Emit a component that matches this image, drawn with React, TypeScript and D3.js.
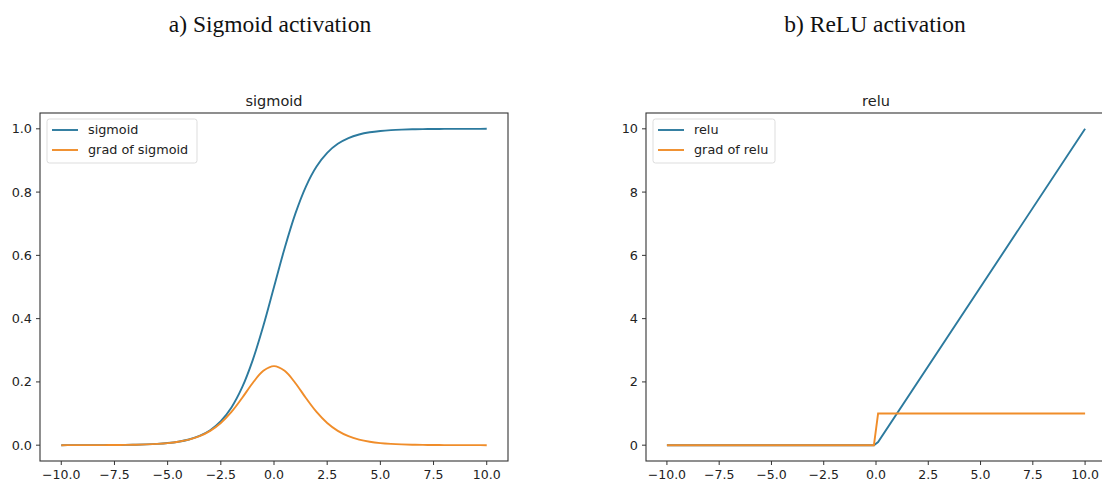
import React from 'react';
import * as d3 from 'd3';

const sigX = [-10, -9.5, -9, -8.5, -8, -7.5, -7, -6.5, -6, -5.5, -5, -4.5, -4, -3.5, -3, -2.5, -2, -1.5, -1, -0.5, 0,
  0.5, 1, 1.5, 2, 2.5, 3, 3.5, 4, 4.5, 5, 5.5, 6, 6.5, 7, 7.5, 8, 8.5, 9, 9.5, 10];
const sigY = [0.0, 0.0001, 0.0001, 0.0002, 0.0003, 0.0006, 0.0009, 0.0015, 0.0025, 0.0041, 0.0067, 0.011, 0.018, 0.0293,
  0.0474, 0.0759, 0.1192, 0.1824, 0.2689, 0.3775, 0.5, 0.6225, 0.7311, 0.8176, 0.8808, 0.9241, 0.9526, 0.9707, 0.982,
  0.989, 0.9933, 0.9959, 0.9975, 0.9985, 0.9991, 0.9994, 0.9997, 0.9998, 0.9999, 0.9999, 1.0];
const sigGrad = [0.0, 0.0001, 0.0001, 0.0002, 0.0003, 0.0006, 0.0009, 0.0015, 0.0025, 0.0041, 0.0066, 0.0109, 0.0177,
  0.0285, 0.0452, 0.0701, 0.105, 0.1491, 0.1966, 0.235, 0.25, 0.235, 0.1966, 0.1491, 0.105, 0.0701, 0.0452, 0.0285,
  0.0177, 0.0109, 0.0066, 0.0041, 0.0025, 0.0015, 0.0009, 0.0006, 0.0003, 0.0002, 0.0001, 0.0001, 0.0];

// relu panel: the kink sits between the two samples nearest zero
const reluX = [-10, -0.1, 0.1, 10];
const reluY = [0, 0, 0.1, 10];
const reluGrad = [0, 0, 1, 1];

const xTicks = [-10, -7.5, -5, -2.5, 0, 2.5, 5, 7.5, 10];
const sigTicks = [0, 0.2, 0.4, 0.6, 0.8, 1.0];
const reluTicks = [0, 2, 4, 6, 8, 10];

const BLUE = '#2c7a9e';
const ORANGE = '#f08d2a';
const FONT = 'DejaVu Sans, sans-serif';

type Series = { name: string; ys: number[]; color: string; curve: d3.CurveFactory };

function fmtTick(v: number) {
  return d3.format('.1f')(v).replace('-', '\u2212');
}

const Panel = ({ left, right, top, bottom, title, xs, series, yDomain, yTicks, yFmt, legendW }: {
  left: number; right: number; top: number; bottom: number; title: string; xs: number[];
  series: Series[]; yDomain: [number, number]; yTicks: number[]; yFmt: (v: number) => string; legendW: number;
}) => {
  const x = d3.scaleLinear().domain([-11, 11]).range([left, right]);
  const y = d3.scaleLinear().domain(yDomain).range([bottom, top]);
  return (
    <g>
      <text x={(left + right) / 2} y={top - 7} textAnchor="middle" fontFamily={FONT} fontSize={14.5} fill="#222">{title}</text>
      {series.map((s) => {
        const line = d3.line<number>().x((_, i) => x(xs[i])).y((d) => y(d)).curve(s.curve);
        return <path key={s.name} d={line(s.ys) || ''} fill="none" stroke={s.color} strokeWidth={1.9} />;
      })}
      <rect x={left} y={top} width={right - left} height={bottom - top} fill="none" stroke="#333" strokeWidth={1.1} />
      {xTicks.map((t) => (
        <g key={t} transform={`translate(${x(t)},${bottom})`}>
          <line y2={4} stroke="#333" />
          <text y={18} textAnchor="middle" fontFamily={FONT} fontSize={12.5} fill="#222">{fmtTick(t)}</text>
        </g>
      ))}
      {yTicks.map((t) => (
        <g key={t} transform={`translate(${left},${y(t)})`}>
          <line x2={-4} stroke="#333" />
          <text x={-8} dy="0.35em" textAnchor="end" fontFamily={FONT} fontSize={12.8} fill="#222">{yFmt(t)}</text>
        </g>
      ))}
      <g transform={`translate(${left + 7},${top + 6})`}>
        <rect width={legendW} height={44} rx={2.5} fill="#fff" fillOpacity={0.8} stroke="#ddd" />
        {series.map((s, i) => (
          <g key={s.name} transform={`translate(0,${11 + i * 20})`}>
            <line x1={5} x2={31} stroke={s.color} strokeWidth={1.9} />
            <text x={41} dy="0.35em" fontFamily={FONT} fontSize={12.8} fill="#222">{s.name}</text>
          </g>
        ))}
      </g>
    </g>
  );
};

export default function App() {
  return (
    <svg width={1102} height={483} style={{ position: 'absolute', left: 0, top: 0, background: '#fff' }}>
      <text x={270} y={32} textAnchor="middle" fontFamily="Liberation Serif, serif" fontSize={23.5} fill="#111">a) Sigmoid activation</text>
      <text x={875} y={32} textAnchor="middle" fontFamily="Liberation Serif, serif" fontSize={23.5} fill="#111">b) ReLU activation</text>
      <Panel left={40} right={508} top={113} bottom={461} title="sigmoid" xs={sigX}
        series={[
          { name: 'sigmoid', ys: sigY, color: BLUE, curve: d3.curveCatmullRom },
          { name: 'grad of sigmoid', ys: sigGrad, color: ORANGE, curve: d3.curveCatmullRom },
        ]}
        yDomain={[-0.05, 1.05]} yTicks={sigTicks} yFmt={(v) => d3.format('.1f')(v)} legendW={150} />
      <Panel left={646} right={1106} top={113} bottom={461} title="relu" xs={reluX}
        series={[
          { name: 'relu', ys: reluY, color: BLUE, curve: d3.curveLinear },
          { name: 'grad of relu', ys: reluGrad, color: ORANGE, curve: d3.curveLinear },
        ]}
        yDomain={[-0.5, 10.5]} yTicks={reluTicks} yFmt={(v) => String(v)} legendW={122} />
    </svg>
  );
}
